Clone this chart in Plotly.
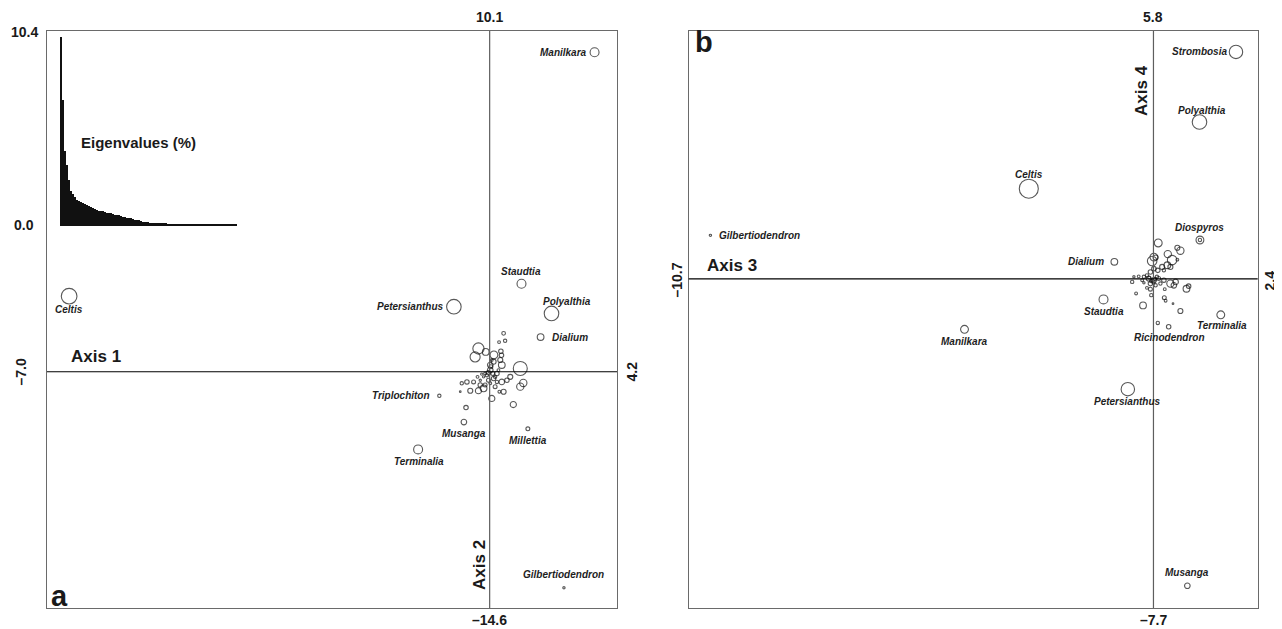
import plotly.graph_objects as go

# ---------------- data ----------------
# Panel a (Axis 1 x Axis 2): labelled species
names_a = ["Manilkara", "Celtis", "Staudtia", "Petersianthus", "Polyalthia", "Dialium",
           "Triplochiton", "Musanga", "Millettia", "Terminalia", "Gilbertiodendron"]
x_a = [3.46, -13.87, 1.05, -1.18, 2.04, 1.68, -1.66, -0.85, 1.26, -2.36, 2.45]
y_a = [9.47, 2.24, 2.61, 1.93, 1.73, 1.03, -0.71, -1.49, -1.69, -2.30, -6.40]
w_a = [8, 14, 8, 13, 13, 6, 3, 5, 3.5, 8, 2]

# Panel a: unlabelled species
ux_a = [0.46, 0.51, 0.31, -0.37, -0.48, -0.13, 0.14, 0.37, 0.39, 0.35, 0.40, 0.13, 0.02, 1.01,
        0.02, -0.04, 0.10, -0.09, -0.20, 0.13, -0.04, 0.24, 0.68, 0.57, 0.40, 0.24, 1.11, 1.01,
        -0.15, -0.31, -0.20, -0.37, -0.64, -0.92, -0.75, -0.53, -0.40, -0.97, 0.18, 0.46, 0.32,
        0.07, 0.78, -0.78, -0.15, -0.26, 0.18, 0.04, 0.29, 0.02, -0.31, 0.07]
uy_a = [1.14, 0.92, 0.88, 0.69, 0.44, 0.59, 0.50, 0.61, 0.49, 0.35, 0.20, 0.30, 0.20, 0.10,
        0.05, -0.03, -0.05, -0.10, -0.15, -0.20, -0.25, -0.05, -0.15, -0.25, -0.30, -0.30, -0.33, -0.44,
        -0.39, -0.39, -0.49, -0.56, -0.56, -0.34, -0.30, -0.30, -0.15, -0.59, -0.44, -0.59, -0.59,
        -0.79, -0.97, -1.06, -0.05, -0.07, -0.15, 0.15, 0.05, -0.34, -0.25, 0.35]
uw_a = [3.3, 3, 2.5, 10, 9, 6, 7, 4, 4, 4.5, 6, 4.5, 5, 12.5,
        5, 4, 3.5, 3, 2, 4, 3.5, 4, 4.5, 4, 5, 3, 6.5, 6.5,
        3.5, 4, 6, 5.5, 4.5, 3, 4, 3.5, 2.5, 1.5, 3.5, 4.5, 2.5,
        5.5, 5.5, 4, 2.5, 2, 3, 3.5, 2.5, 2.5, 2, 2.5]

# Panel b (Axis 3 x Axis 4): labelled species
names_b = ["Strombosia", "Polyalthia", "Celtis", "Gilbertiodendron", "Diospyros", "Dialium",
           "Staudtia", "Terminalia", "Ricinodendron", "Manilkara", "Petersianthus", "Musanga"]
x_b = [1.90, 1.06, -2.87, -10.20, 1.07, -0.90, -1.15, 1.55, 0.35, -4.35, -0.59, 0.78]
y_b = [5.31, 3.67, 2.11, 1.02, 0.91, 0.40, -0.48, -0.84, -1.12, -1.18, -2.58, -7.18]
w_b = [12, 13, 17, 2, 7, 6, 8, 7, 4, 7, 12, 5]

# Panel b: unlabelled species
ux_b = [0.11, 0.33, 0.55, 0.62, 0.01, -0.03, 0.05, 0.43, 0.55, 0.32, 0.39, 0.20, 0.10, 0.24,
        0.01, -0.07, -0.15, -0.22, -0.34, -0.45, -0.49, -0.26, -0.11, 0.01, 0.12, 0.24, -0.07,
        0.05, 0.16, -0.22, -0.07, -0.15, 0.39, 0.51, 0.47, 0.76, 0.81, 0.26, -0.40, -0.05, 0.25,
        -0.24, 0.28, 0.45, 0.62, 0.10, 0.03, -0.05, 0.08, 0.00, -0.10, 1.07]
uy_b = [0.84, 0.58, 0.73, 0.66, 0.51, 0.42, 0.50, 0.44, 0.45, 0.32, 0.28, 0.28, 0.20, 0.20,
        0.24, 0.16, 0.08, 0.05, 0.06, 0.05, -0.07, -0.03, 0.01, -0.03, 0.01, -0.03, -0.11,
        -0.15, -0.11, -0.09, -0.24, -0.21, -0.11, -0.07, -0.15, -0.23, -0.17, -0.24, -0.34, -0.38, -0.44,
        -0.62, -0.51, -0.58, -0.75, -1.03, 0.00, -0.05, 0.05, -0.08, 0.03, 0.91]
uw_b = [7, 6.5, 4.5, 6.5, 7, 8.5, 4.5, 8.5, 2.5, 6, 4.5, 4.5, 4, 3,
        4, 4, 3, 3, 2.5, 2, 3, 2.5, 4.5, 4.5, 3.5, 4, 4,
        3, 3, 2, 3.5, 2.5, 6.5, 5, 5, 6, 4, 2.5, 2.5, 3, 3.5,
        6, 2.5, 1.5, 4.5, 3, 3, 3, 3, 3, 2.5, 3]

# Eigenvalues (%) of the inset bar chart
eigen = [10.4, 6.9, 4.1, 3.3, 2.5, 1.9, 1.7, 1.55, 1.38, 1.33, 1.27, 1.22, 1.16, 1.10, 1.05,
         1.00, 0.94, 0.88, 0.83, 0.80, 0.77, 0.75, 0.72, 0.69, 0.66, 0.64, 0.61, 0.58, 0.55,
         0.53, 0.50, 0.47, 0.44, 0.41, 0.39, 0.36, 0.33, 0.30, 0.28, 0.25, 0.22, 0.19, 0.17,
         0.15, 0.13, 0.11, 0.10, 0.09, 0.08, 0.075, 0.07, 0.065, 0.06, 0.055, 0.05, 0.045,
         0.04, 0.035, 0.03, 0.03, 0.025, 0.025, 0.02, 0.02, 0.02, 0.02, 0.02, 0.02, 0.015,
         0.015, 0.015, 0.015, 0.015, 0.015, 0.012, 0.012, 0.012, 0.012, 0.012, 0.01, 0.01,
         0.01, 0.01, 0.01, 0.01, 0.01, 0.01, 0.01]

range_a_x, range_a_y = [-14.6, 4.2], [-7.0, 10.1]
range_b_x, range_b_y = [-10.7, 2.4], [-7.7, 5.8]
lim_a = {"top": "10.1", "bottom": "\u201314.6", "left": "\u20137.0", "right": "4.2"}
lim_b = {"top": "5.8", "bottom": "\u20137.7", "left": "\u201310.7", "right": "2.4"}
eig_ticks = ["10.4", "0.0"]

# ---------------- styles ----------------
OFF = 8                      # default page margin of the html body
W, H = 1282 - OFF, 629 - OFF
FONT = "Liberation Sans, Arial, Helvetica, sans-serif"
SIZE_SCALE = 1.12

def fx(x):
    return (x - OFF) / W

def fy(y):
    return 1 - (y - OFF) / H

# label placement: (xanchor, xshift, yshift)
lab_a = {"Manilkara": ("right", -6, 0), "Celtis": ("center", 0, -13), "Staudtia": ("center", 0, 12),
         "Petersianthus": ("right", -8, 0), "Polyalthia": ("center", 15, 12), "Dialium": ("left", 9, 0),
         "Triplochiton": ("right", -7, 0), "Musanga": ("center", 0, -11), "Millettia": ("center", 0, -12),
         "Terminalia": ("center", 1, -12), "Gilbertiodendron": ("center", 0, 13)}
lab_b = {"Strombosia": ("right", -7, 0), "Polyalthia": ("center", 2, 12), "Celtis": ("center", 0, 14),
         "Gilbertiodendron": ("left", 7, 0), "Diospyros": ("center", 0, 12), "Dialium": ("right", -8, 0),
         "Staudtia": ("center", 0, -12), "Terminalia": ("center", 1, -11), "Ricinodendron": ("center", 1, -11),
         "Manilkara": ("center", 0, -12), "Petersianthus": ("center", 0, -12), "Musanga": ("center", 0, 13)}

fig = go.Figure()

def circles(xs, ys, ws, xa, ya):
    fig.add_trace(go.Scatter(
        x=xs, y=ys, mode="markers", xaxis=xa, yaxis=ya, hoverinfo="skip",
        marker=dict(symbol="circle-open", size=[w * SIZE_SCALE for w in ws], color="#111111",
                    line=dict(width=1.1, color="#111111"))))

circles(ux_a, uy_a, uw_a, "x", "y")
circles(x_a, y_a, w_a, "x", "y")
circles(ux_b, uy_b, uw_b, "x2", "y2")
circles(x_b, y_b, w_b, "x2", "y2")

fig.add_trace(go.Bar(x=list(range(len(eigen))), y=eigen, xaxis="x3", yaxis="y3",
                     marker=dict(color="#111111", line=dict(width=0)), hoverinfo="skip"))

# ---------------- layout ----------------
dom_a_x = [fx(47), fx(617)]
dom_b_x = [fx(688.7), fx(1257.7)]
dom_y = [fy(608), fy(31)]

frame = dict(showgrid=False, zeroline=False, showticklabels=False, ticks="",
             showline=True, mirror=True, linecolor="#6a6a6a", linewidth=1.4)

fig.update_layout(
    width=W, height=H, margin=dict(l=0, r=0, t=0, b=0),
    paper_bgcolor="white", plot_bgcolor="rgba(0,0,0,0)", showlegend=False, bargap=0,
    xaxis=dict(domain=dom_a_x, range=range_a_x, anchor="y", **frame),
    yaxis=dict(domain=dom_y, range=range_a_y, anchor="x", **frame),
    xaxis2=dict(domain=dom_b_x, range=range_b_x, anchor="y2", **frame),
    yaxis2=dict(domain=dom_y, range=range_b_y, anchor="x2", **frame),
    xaxis3=dict(domain=[fx(60), fx(237)], range=[-0.5, len(eigen) - 0.5], anchor="y3",
                showgrid=False, zeroline=False, showticklabels=False, ticks="",
                showline=True, linecolor="#111111", linewidth=1),
    yaxis3=dict(domain=[fy(225), fy(37)], range=[0, 10.4], anchor="x3",
                showgrid=False, zeroline=False, showticklabels=False, ticks="", showline=False),
)

# axis cross lines
shapes = []
for xr, yr, hx in [("x", "y", "x domain"), ("x2", "y2", "x2 domain")]:
    shapes.append(dict(type="line", xref=xr, yref=yr + " domain", x0=0, x1=0, y0=0, y1=1,
                       line=dict(color="#5e5e5e", width=1.2)))
    shapes.append(dict(type="line", xref=hx, yref=yr, x0=0, x1=1, y0=0, y1=0,
                       line=dict(color="#000000", width=1.1)))
fig.update_layout(shapes=shapes)

ann = []

def species_labels(names, xs, ys, lab, xr, yr):
    for n, x, y in zip(names, xs, ys):
        anc, dx, dy = lab[n]
        ann.append(dict(x=x, y=y, xref=xr, yref=yr, text=n, showarrow=False,
                        xanchor=anc, yanchor="middle", xshift=dx, yshift=dy,
                        font=dict(family=FONT, size=10, color="#1e1e1e", weight="bold", style="italic")))

species_labels(names_a, x_a, y_a, lab_a, "x", "y")
species_labels(names_b, x_b, y_b, lab_b, "x2", "y2")

def txt(text, x, y, size, angle=0, xanchor="center", yanchor="middle"):
    ann.append(dict(x=fx(x), y=fy(y), xref="paper", yref="paper", text=text, showarrow=False,
                    textangle=angle, xanchor=xanchor, yanchor=yanchor,
                    font=dict(family=FONT, size=size, color="#1a1a1a", weight="bold")))

# axis limit labels
txt(lim_a["top"], 489.5, 17, 14)
txt(lim_a["bottom"], 489.5, 620, 14)
txt(lim_a["left"], 20, 371.5, 14, angle=-90)
txt(lim_a["right"], 631, 371.5, 14, angle=-90)
txt(lim_b["top"], 1153, 17, 14)
txt(lim_b["bottom"], 1153, 620, 14)
txt(lim_b["left"], 677, 280.5, 14, angle=-90)
txt(lim_b["right"], 1270, 280.5, 14, angle=-90)

# eigenvalue inset labels
txt(eig_ticks[0], 24, 32, 14)
txt(eig_ticks[1], 24, 225, 14)
txt("Eigenvalues (%)", 138.5, 142.5, 15)

# axis names
txt("Axis 1", 69, 356.5, 17, xanchor="left")
txt("Axis 2", 479, 565, 17, angle=-90)
txt("Axis 3", 705, 265, 17, xanchor="left")
txt("Axis 4", 1141, 91, 17, angle=-90)

# panel letters
txt("a", 60, 596, 29)
txt("b", 704, 42, 29)

fig.update_layout(annotations=ann)
fig.write_html("out.html")
